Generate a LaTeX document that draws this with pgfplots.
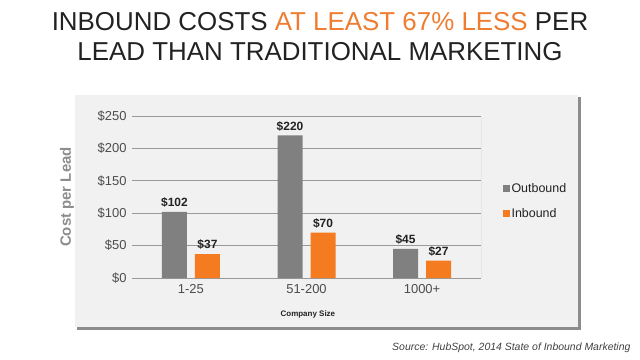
\documentclass[border=0pt]{standalone}
\usepackage{pgfplots}
\pgfplotsset{compat=1.18}
\usepackage{fontspec}
\setmainfont{Liberation Sans}
\definecolor{barGray}{HTML}{808080}
\definecolor{barOrange}{HTML}{F47B20}
\definecolor{panel}{HTML}{F1F1F1}
\definecolor{titleOrange}{HTML}{EE7D31}
\definecolor{darktext}{HTML}{222222}
\begin{document}
\begin{tikzpicture}[x=1bp,y=1bp]
\useasboundingbox (0,0) rectangle (640,359);
% panel with shadow
\fill[black!45] (77,29.5) rectangle (580.5,262);
\fill[panel] (75,32) rectangle (578,264);
% title
\node[font=\fontsize{26}{30}\selectfont, text=darktext] at (320,337)
  {INBOUND COSTS \textcolor{titleOrange}{AT LEAST 67\% LESS} PER};
\node[font=\fontsize{26}{30}\selectfont, text=darktext] at (320,307)
  {LEAD THAN TRADITIONAL MARKETING};
% source
\node[anchor=east, font=\fontsize{10.5}{12}\selectfont\itshape, text=black!75] at (634,11)
  {Source: HubSpot, 2014 State of Inbound Marketing};
\begin{axis}[
  at={(132bp,81bp)}, anchor=south west,
  scale only axis, width=349bp, height=162bp,
  xmin=-0.51, xmax=2.51, ymin=0, ymax=250,
  ybar, bar width=25bp,
  axis line style={draw=none},
  xtick={0,1,2}, xticklabels={1-25,51-200,1000+},
  ytick={0,50,100,150,200,250},
  yticklabels={\$0,\$50,\$100,\$150,\$200,\$250},
  major tick length=0pt,
  tick label style={font=\fontsize{13}{15}\selectfont, text=black!70},
  yticklabel style={xshift=-2bp},
  xticklabel style={yshift=-3bp},
  ymajorgrids, grid style={draw=black!40, line width=0.7pt},
  ylabel={Cost per Lead},
  every axis y label/.style={at={(axis description cs:-0.186,0.5)}, rotate=90, anchor=center,
     font=\fontsize{15}{18}\selectfont\bfseries, text=black!45},
  xlabel={Company Size},
  every axis x label/.style={at={(axis description cs:0.504,-0.222)}, anchor=center,
     font=\fontsize{8}{10}\selectfont\bfseries, text=darktext},
  nodes near coords={\$\pgfmathprintnumber[assume math mode=true]{\pgfplotspointmeta}},
  nodes near coords style={font=\fontsize{12}{14}\selectfont\bfseries, text=darktext, anchor=south, yshift=1bp},
  legend style={at={(axis description cs:1.054,0.611)}, anchor=north west,
     draw=none, fill=none, font=\fontsize{12.5}{15}\selectfont, text=darktext,
     row sep=11bp, nodes={inner xsep=1.5bp}, cells={anchor=west}},
  legend image code/.code={\fill[#1] (0bp,-3.5bp) rectangle (7bp,3.5bp);},
]
\addplot[fill=barGray, draw=none, bar shift=-16.5bp] coordinates {(0,102) (1,220) (2,45)};
\addplot[fill=barOrange, draw=none, bar shift=16.5bp] coordinates {(0,37) (1,70) (2,27)};
\legend{Outbound, Inbound}
\draw[black!40, line width=0.7pt] (rel axis cs:1,0) -- (rel axis cs:1,1);
\end{axis}
\end{tikzpicture}
\end{document}
